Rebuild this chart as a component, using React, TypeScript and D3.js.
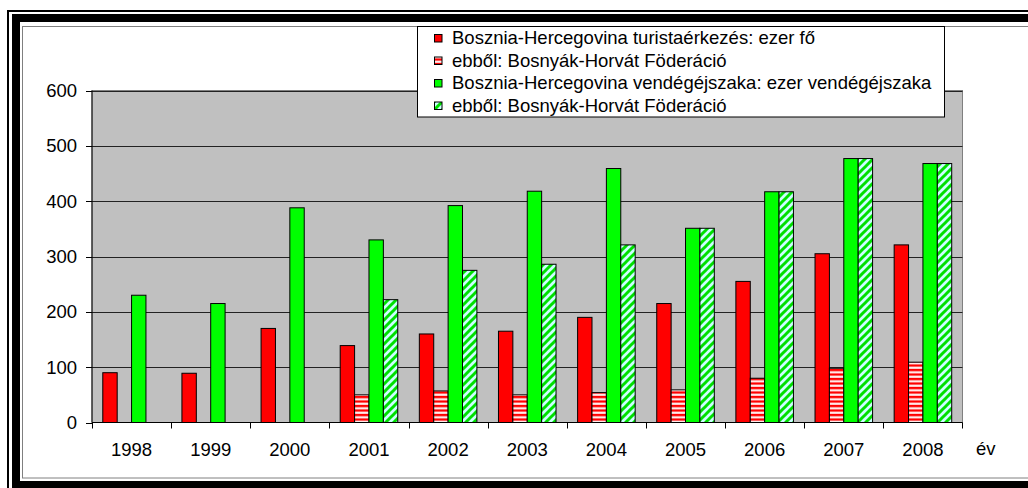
import React from 'react';
import * as d3 from 'd3';

const years = ['1998', '1999', '2000', '2001', '2002', '2003', '2004', '2005', '2006', '2007', '2008'];
const arrivals = [90, 89, 170, 139, 160, 165, 190, 215, 255, 305, 321];
const arrivalsFed: (number | null)[] = [null, null, null, 50, 57, 50, 54, 59, 80, 98, 109];
const nights = [230, 215, 388, 330, 392, 418, 459, 351, 417, 477, 468];
const nightsFed: (number | null)[] = [null, null, null, 222, 275, 286, 321, 351, 417, 477, 468];
const yTicks = [0, 100, 200, 300, 400, 500, 600];
const legendLabels = [
  'Bosznia-Hercegovina turistaérkezés: ezer fő',
  'ebből: Bosnyák-Horvát Föderáció',
  'Bosznia-Hercegovina vendégéjszaka: ezer vendégéjszaka',
  'ebből: Bosnyák-Horvát Föderáció',
];
const xAxisTitle = 'év';

const FONT = "'Liberation Sans', Arial, sans-serif";
const FS = 18.5;

export default function App() {
  const W = 1028, H = 488;
  const plot = { left: 92, right: 962.5, top: 90.5, bottom: 422.5 };
  const x = d3.scaleBand<string>().domain(years).range([plot.left, plot.right]);
  const bw = x.bandwidth();
  const barW = bw / 5.5;
  const gap = barW * 1.5;
  const inner = d3.scaleBand<number>().domain([0, 1, 2, 3]).range([gap / 2, bw - gap / 2]);
  const y = d3.scaleLinear().domain([0, 600]).range([plot.bottom, plot.top]);

  const series = [
    { values: arrivals as (number | null)[], fill: '#FF0000' },
    { values: arrivalsFed, fill: 'url(#redStripe)' },
    { values: nights as (number | null)[], fill: '#00FF00' },
    { values: nightsFed, fill: 'url(#greenHatch)' },
  ];

  const legend = { x: 417.5, y: 26.5, w: 527, h: 90.5 };
  const rowY = [38, 60.5, 83, 105.5];

  return (
    <svg width={W} height={H} style={{ position: 'absolute', left: 0, top: 0, background: '#fff' }}>
      <defs>
        <pattern id="redStripe" patternUnits="userSpaceOnUse" width={8} height={4.5}>
          <rect x={0} y={0} width={8} height={4.5} fill="#FF0000" />
          <rect x={0} y={2.3} width={8} height={2} fill="#FFFFFF" />
          <rect x={0} y={1.9} width={8} height={0.4} fill="#FF9090" />
        </pattern>
        <pattern id="greenHatch" patternUnits="userSpaceOnUse" width={8} height={8}>
          <rect x={0} y={0} width={8} height={8} fill="#CCFFFF" />
          <path d="M-2,10 L10,-2" stroke="#00E000" strokeWidth={3} />
          <path d="M-2,2 L2,-2" stroke="#00E000" strokeWidth={3} />
          <path d="M6,10 L10,6" stroke="#00E000" strokeWidth={3} />
        </pattern>
      </defs>

      {/* frame */}
      <rect x={8} y={11} width={1200} height={600} fill="none" stroke="#000" strokeWidth={2} />
      <rect x={16} y={18} width={1200} height={467} fill="none" stroke="#000" strokeWidth={8} />
      <rect x={22.5} y={26.5} width={1200} height={451.5} fill="none" stroke="#808080" strokeWidth={1} />

      {/* plot area */}
      <rect x={plot.left} y={plot.top} width={plot.right - plot.left} height={plot.bottom - plot.top} fill="#C0C0C0" stroke="#808080" strokeWidth={1} />
      {yTicks.filter(t => t > 0).map(t => (
        <line key={t} x1={plot.left} x2={plot.right} y1={Math.round(y(t)) + 0.5} y2={Math.round(y(t)) + 0.5} stroke="#222" strokeWidth={1} />
      ))}

      {/* bars */}
      {series.map((s, si) =>
        years.map((yr, i) => {
          const v = s.values[i];
          if (v == null) return null;
          const bx = (x(yr) as number) + (inner(si) as number);
          return (
            <rect key={`${si}-${i}`} x={bx} y={y(v)} width={inner.bandwidth()} height={plot.bottom - y(v)}
              fill={s.fill} stroke="#000" strokeWidth={1} />
          );
        })
      )}

      {/* axes */}
      <line x1={plot.left} x2={plot.left} y1={plot.top} y2={plot.bottom} stroke="#000" strokeWidth={1} />
      <line x1={plot.left} x2={plot.right} y1={plot.bottom} y2={plot.bottom} stroke="#000" strokeWidth={1} />
      {yTicks.map(t => (
        <g key={t}>
          <line x1={plot.left - 6} x2={plot.left} y1={Math.round(y(t)) + 0.5} y2={Math.round(y(t)) + 0.5} stroke="#000" />
          <text x={77} y={y(t)} dy="0.35em" textAnchor="end" fontFamily={FONT} fontSize={FS} fill="#000">{t}</text>
        </g>
      ))}
      {years.map((yr, i) => (
        <line key={yr} x1={Math.round(x(yr) as number) + 0.5} x2={Math.round(x(yr) as number) + 0.5} y1={plot.bottom} y2={plot.bottom + 6} stroke="#000" />
      ))}
      <line x1={plot.right} x2={plot.right} y1={plot.bottom} y2={plot.bottom + 6} stroke="#000" />
      {years.map(yr => (
        <text key={yr} x={(x(yr) as number) + bw / 2} y={456} textAnchor="middle" fontFamily={FONT} fontSize={FS} fill="#000">{yr}</text>
      ))}
      <text x={976} y={455} fontFamily={FONT} fontSize={FS} fill="#000">{xAxisTitle}</text>

      {/* legend */}
      <rect x={legend.x} y={legend.y} width={legend.w} height={legend.h} fill="#fff" stroke="#000" strokeWidth={1} />
      {legendLabels.map((lab, i) => (
        <g key={i}>
          <rect x={434.5} y={rowY[i] - 3.5} width={7.5} height={7.5} fill={series[i].fill} stroke="#000" strokeWidth={1} />
          <text x={452} y={rowY[i]} dy="0.35em" fontFamily={FONT} fontSize={FS} fill="#000">{lab}</text>
        </g>
      ))}
    </svg>
  );
}
